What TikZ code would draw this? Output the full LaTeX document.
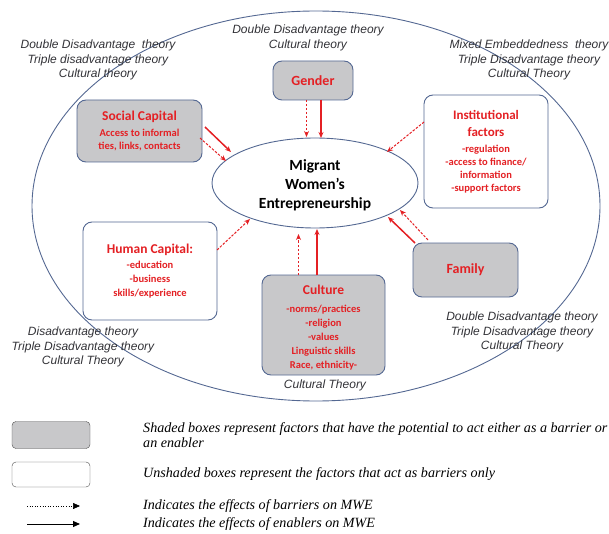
\documentclass[tikz,border=0pt]{standalone}
\usepackage{fontspec}
\setmainfont{Liberation Serif}
\newfontfamily\calib{Carlito}
\newfontfamily\arialf{Liberation Sans}
\usetikzlibrary{arrows.meta,shapes.geometric}
\definecolor{boxred}{RGB}{228,32,36}
\definecolor{edgeblue}{RGB}{84,104,146}
\definecolor{shade}{RGB}{200,200,202}
\definecolor{theorygray}{RGB}{50,50,55}
\tikzset{
  factor/.style={draw=edgeblue, line width=0.9pt, rounded corners=9pt, text=boxred, align=center, inner sep=0pt},
  shaded/.style={factor, fill=shade},
  unshaded/.style={factor, fill=white},
  theory/.style={font=\arialf\itshape\fontsize{12}{14.5}\selectfont, text=theorygray, align=center, inner sep=0pt},
  enabler/.style={draw=boxred, fill=boxred, line width=1.5pt, -{Stealth[length=6pt,width=5pt]}},
  barrier/.style={draw=boxred, line width=1pt, dash pattern=on 2.5pt off 1.5pt, -{Stealth[length=6pt,width=5pt,open]}},
  legtext/.style={font=\itshape\fontsize{14.1}{15}\selectfont, anchor=west, inner sep=0pt, align=left},
}
\newcommand{\ttl}[1]{{\fontsize{13.5}{15}\selectfont #1}}
\begin{document}
\begin{tikzpicture}[x=1pt,y=-1pt]
\useasboundingbox (0,0) rectangle (609,534);
% outer ellipse
\draw[edgeblue, line width=0.9pt] (316,206) ellipse [x radius=284, y radius=195];
% central ellipse
\node[ellipse, draw=edgeblue, line width=0.9pt, fill=white, minimum width=206pt, minimum height=90pt, inner sep=0pt] (mwe) at (315,183) {};
\node[font=\calib\bfseries\fontsize{15.5}{19}\selectfont, align=center, inner sep=0pt] (mwet) at (315,185) {Migrant\\Women’s\\Entrepreneurship};

% boxes
\node[shaded, minimum width=80pt, minimum height=39pt, font=\calib\bfseries\fontsize{14}{16}\selectfont] (gender) at (313,80.5) {Gender};
\node[shaded, minimum width=125pt, minimum height=62pt, font=\calib\bfseries\fontsize{10.5}{13}\selectfont] (social) at (139.5,131) {\ttl{Social Capital}\\[3pt]Access to informal\\ties, links, contacts};
\node[unshaded, minimum width=124pt, minimum height=113pt, font=\calib\bfseries\fontsize{10.5}{13}\selectfont] (inst) at (486,151.5) {{\fontsize{13}{15}\selectfont Institutional}\\[4pt]{\fontsize{13}{15}\selectfont factors}\\[3pt]-regulation\\-access to finance/\\information\\-support factors};
\node[unshaded, minimum width=134pt, minimum height=98pt, font=\calib\bfseries\fontsize{10.5}{14}\selectfont] (human) at (150,271) {\ttl{Human Capital:}\\[1pt]-education\\-business\\skills/experience};
\node[shaded, minimum width=123pt, minimum height=100pt, font=\calib\bfseries\fontsize{10.5}{14}\selectfont] (culture) at (323.5,325) {};
\node[font=\calib\bfseries\fontsize{10.5}{14}\selectfont, text=boxred, align=center, inner sep=0pt] (culturet) at (323.5,328) {\ttl{Culture}\\[4pt]-norms/practices\\-religion\\-values\\Linguistic skills\\Race, ethnicity-};
\node[shaded, minimum width=105pt, minimum height=54pt, font=\calib\bfseries\fontsize{14}{16}\selectfont] (family) at (465.5,270) {Family};

% theory labels
\node[theory] (thtl) at (98,60) {Double Disadvantage\ \ theory\\Triple disadvantage theory\\Cultural theory};
\node[theory] (thtc) at (308,38) {Double Disadvantage theory\\Cultural theory};
\node[theory] (thtr) at (529,60) {Mixed Embeddedness\ \ theory\\Triple Disadvantage\ theory\\Cultural Theory};
\node[theory] (thbl) at (83,347) {Disadvantage\ theory\\Triple Disadvantage\ theory\\Cultural\ Theory};
\node[theory] (thbr) at (522,332) {Double\ Disadvantage\ theory\\Triple Disadvantage theory\\Cultural\ Theory};
\node[theory] (thcu) at (325,385) {Cultural\ Theory};

% arrow anchor coordinates
\coordinate (g1) at (306.5,100); \coordinate (g1e) at (306.5,137);
\coordinate (g2) at (321,100); \coordinate (g2e) at (321,138);
\coordinate (s1) at (205,127); \coordinate (s1e) at (231,152);
\coordinate (s2) at (200,138); \coordinate (s2e) at (226,161);
\coordinate (i1) at (424,122); \coordinate (i1e) at (387,152);
\coordinate (h1) at (217,250); \coordinate (h1e) at (250,219);
\coordinate (c1) at (298.5,275); \coordinate (c1e) at (298.5,234);
\coordinate (c2) at (317,275); \coordinate (c2e) at (317,229);
\coordinate (f1) at (415,243); \coordinate (f1e) at (388,217);
\coordinate (f2) at (428,240); \coordinate (f2e) at (400,210);

\draw[barrier] (g1) -- (g1e);
\draw[enabler] (g2) -- (g2e);
\draw[enabler] (s1) -- (s1e);
\draw[barrier] (s2) -- (s2e);
\draw[barrier] (i1) -- (i1e);
\draw[barrier] (h1) -- (h1e);
\draw[barrier] (c1) -- (c1e);
\draw[enabler] (c2) -- (c2e);
\draw[enabler] (f1) -- (f1e);
\draw[barrier] (f2) -- (f2e);

% legend
\node[draw=black!70, fill=shade, rounded corners=4pt, minimum width=78pt, minimum height=27pt, inner sep=0pt] (legshaded) at (51,435) {};
\node[draw=black!70, fill=white, rounded corners=4pt, minimum width=78pt, minimum height=25pt, inner sep=0pt] (legunshaded) at (51,474.5) {};
\coordinate (ld1) at (27,506); \coordinate (ld2) at (80,506);
\coordinate (ls1) at (27,524); \coordinate (ls2) at (80,524);
\draw[black, line width=0.6pt, dotted, -{Triangle[length=7pt,width=6pt]}] (ld1) -- (ld2);
\draw[black, line width=1pt, -{Triangle[length=7pt,width=6pt]}] (ls1) -- (ls2);
\node[legtext] (lt1) at (143,435) {Shaded boxes represent factors that have the potential to act either as a barrier or\\an enabler};
\node[legtext] (lt2) at (143,474) {Unshaded boxes represent the factors that act as barriers only};
\node[legtext] (lt3) at (143,506) {Indicates the effects of barriers on MWE};
\node[legtext] (lt4) at (143,524) {Indicates the effects of enablers on MWE};
\end{tikzpicture}
\end{document}
